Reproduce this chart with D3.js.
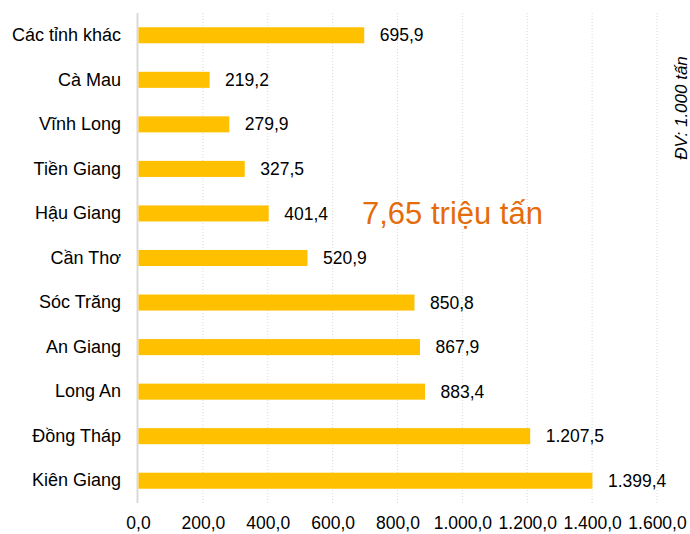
<!DOCTYPE html>
<html>
<head>
<meta charset="utf-8">
<script src="https://cdn.jsdelivr.net/npm/d3@7"></script>
<style>
  body { margin: 0; background: #fff; }
  text { font-family: "Liberation Sans", Arial, sans-serif; }
</style>
</head>
<body>
<div id="chart"></div>
<script>
var provinces = ["Các tỉnh khác", "Cà Mau", "Vĩnh Long", "Tiền Giang", "Hậu Giang", "Cần Thơ",
                 "Sóc Trăng", "An Giang", "Long An", "Đồng Tháp", "Kiên Giang"];
var output = [695.9, 219.2, 279.9, 327.5, 401.4, 520.9, 850.8, 867.9, 883.4, 1207.5, 1399.4];
var xTicks = [0, 200, 400, 600, 800, 1000, 1200, 1400, 1600];
var totalLabel = "7,65 triệu tấn";
var unitLabel = "ĐV:  1.000 tấn";

var width = 690, height = 534;
var margin = {top: 13, right: 33, bottom: 31, left: 138};
var w = width - margin.left - margin.right,
    h = height - margin.top - margin.bottom;

// vietnamese number format: 1.207,5
var vi = d3.formatLocale({decimal: ",", thousands: ".", grouping: [3], currency: ["", ""]});
var fmt = vi.format(",.1f");

var data = provinces.map(function(p, i) { return {name: p, value: output[i]}; });

var x = d3.scaleLinear().domain([0, 1600]).range([0, w]);
var y = d3.scaleBand().domain(provinces).range([0, h]).paddingInner(0.64).paddingOuter(0.32);

var svg = d3.select("#chart").append("svg")
    .attr("width", width)
    .attr("height", height)
  .append("g")
    .attr("transform", "translate(" + margin.left + "," + margin.top + ")");

// dotted grid
svg.selectAll(".grid")
    .data(xTicks.slice(1))
  .enter().append("line")
    .attr("class", "grid")
    .attr("x1", function(d) { return x(d); })
    .attr("x2", function(d) { return x(d); })
    .attr("y1", 0)
    .attr("y2", h)
    .attr("stroke", "#d9d9d9")
    .attr("stroke-dasharray", "1,2");

// x axis labels only
var xAxis = d3.axisBottom(x).tickValues(xTicks).tickSize(0).tickPadding(14).tickFormat(fmt);
var gx = svg.append("g")
    .attr("transform", "translate(0," + h + ")")
    .call(xAxis);
gx.select(".domain").remove();
gx.selectAll("text").attr("font-size", 17.5).attr("fill", "#000")
    .style("font-family", "'Liberation Sans', Arial, sans-serif");

// y axis
var yAxis = d3.axisLeft(y).tickSize(0).tickPadding(17);
var gy = svg.append("g").call(yAxis);
gy.select(".domain").remove();
gy.selectAll("text").attr("font-size", 18).attr("fill", "#000")
    .style("font-family", "'Liberation Sans', Arial, sans-serif");

svg.append("line")
    .attr("x1", -0.5).attr("x2", -0.5)
    .attr("y1", 0).attr("y2", h)
    .attr("stroke", "#d9d9d9")
    .attr("stroke-width", 2);

svg.selectAll(".bar")
    .data(data)
  .enter().append("rect")
    .attr("class", "bar")
    .attr("x", x(0) + 0.5)
    .attr("y", function(d) { return y(d.name); })
    .attr("width", function(d) { return x(d.value) - x(0); })
    .attr("height", y.bandwidth())
    .attr("fill", "#ffc000");

svg.selectAll(".val")
    .data(data)
  .enter().append("text")
    .attr("class", "val")
    .attr("x", function(d) { return x(d.value) + 16; })
    .attr("y", function(d) { return y(d.name) + y.bandwidth() / 2; })
    .attr("dy", "0.35em")
    .attr("font-size", 17.5)
    .attr("fill", "#000")
    .text(function(d) { return fmt(d.value); });

svg.append("text")
    .attr("x", 362 - margin.left)
    .attr("y", 224 - margin.top)
    .attr("font-size", 31)
    .attr("fill", "#e46c0a")
    .text(totalLabel);

svg.append("text")
    .attr("transform", "translate(" + (687 - margin.left) + "," + (108 - margin.top) + ") rotate(-90)")
    .attr("text-anchor", "middle")
    .attr("font-size", 17)
    .attr("font-style", "italic")
    .attr("fill", "#000")
    .text(unitLabel);
</script>
</body>
</html>
